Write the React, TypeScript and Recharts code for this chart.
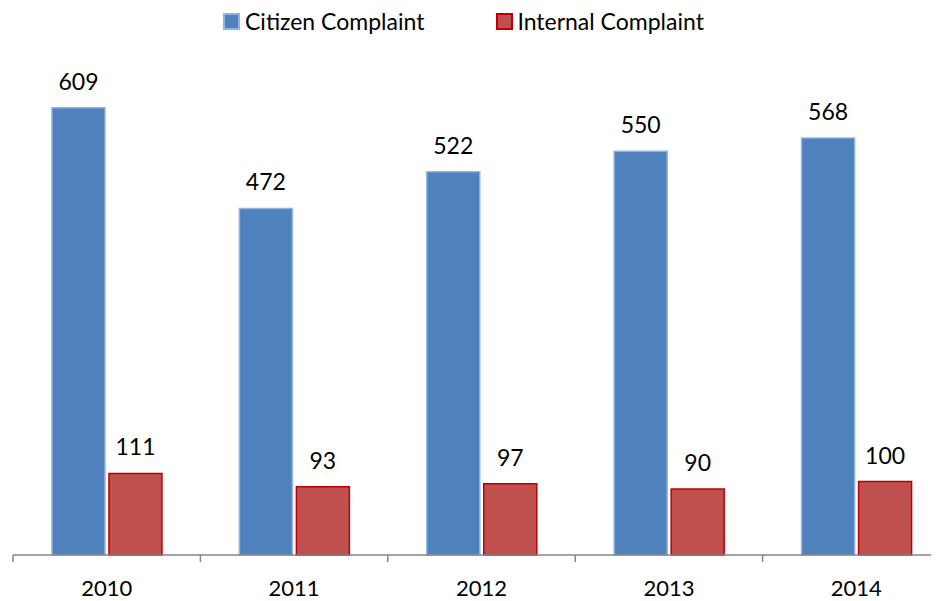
import { BarChart, Bar, XAxis, YAxis, Legend, LabelList } from "recharts";

const years = ["2010", "2011", "2012", "2013", "2014"];
const citizen = [609, 472, 522, 550, 568];
const internal = [111, 93, 97, 90, 100];

const data = years.map((year, i) => ({
  year,
  citizen: citizen[i],
  internal: internal[i],
}));

const FONT = "Lato, 'Liberation Sans', sans-serif";

const YearTick = (props: any) => {
  const { x, y, payload, index, width } = props;
  const bw = width ? width / years.length : 187.4;
  const axisY = y - 8;
  return (
    <g>
      <line x1={x - bw / 2} y1={axisY} x2={x - bw / 2} y2={axisY + 7} stroke="#868686" strokeWidth={1.5} />
      {index === years.length - 1 && (
        <line x1={x + bw / 2} y1={axisY} x2={x + bw / 2} y2={axisY + 7} stroke="#868686" strokeWidth={1.5} />
      )}
      <text x={x} y={axisY + 33} textAnchor="middle" dy="0.35em" fontSize={22} fill="#000" fontFamily={FONT}>
        {payload.value}
      </text>
    </g>
  );
};

const LegendBox = () => (
  <div
    style={{
      display: "flex",
      alignItems: "center",
      height: 26,
      lineHeight: "26px",
      paddingLeft: 215,
      fontFamily: FONT,
      fontSize: 23,
      color: "#000",
    }}
  >
    <span style={{ width: 13, height: 13, background: "#4F81BD", border: "2px solid #8EB4E3", marginRight: 5 }} />
    <span style={{ marginRight: 72 }}>Citizen Complaint</span>
    <span style={{ width: 13, height: 13, background: "#C0504D", border: "2px solid #C00000", marginRight: 4 }} />
    <span>Internal Complaint</span>
  </div>
);

export default function App() {
  return (
    <div style={{ width: 931, height: 593, overflow: "hidden" }}>
      <BarChart
        width={942}
        height={593}
        data={data}
        margin={{ top: 7, right: 0, left: 5, bottom: 0 }}
        barCategoryGap="20.8%"
        barGap={4}
      >
        <Legend verticalAlign="top" content={<LegendBox />} wrapperStyle={{ top: 0, left: 0, width: 942 }} />
        <YAxis hide domain={[0, 700]} />
        <XAxis
          dataKey="year"
          height={46}
          axisLine={{ stroke: "#868686", strokeWidth: 1.5 }}
          tickLine={false}
          tick={<YearTick />}
        />
        <Bar dataKey="citizen" fill="#4F81BD" stroke="#8EB4E3" strokeWidth={1.5} isAnimationActive={false}>
          <LabelList dataKey="citizen" position="top" offset={18} fontSize={23} fill="#000" fontFamily={FONT} />
        </Bar>
        <Bar dataKey="internal" fill="#C0504D" stroke="#C00000" strokeWidth={1.5} isAnimationActive={false}>
          <LabelList dataKey="internal" position="top" offset={18} fontSize={23} fill="#000" fontFamily={FONT} />
        </Bar>
      </BarChart>
    </div>
  );
}
